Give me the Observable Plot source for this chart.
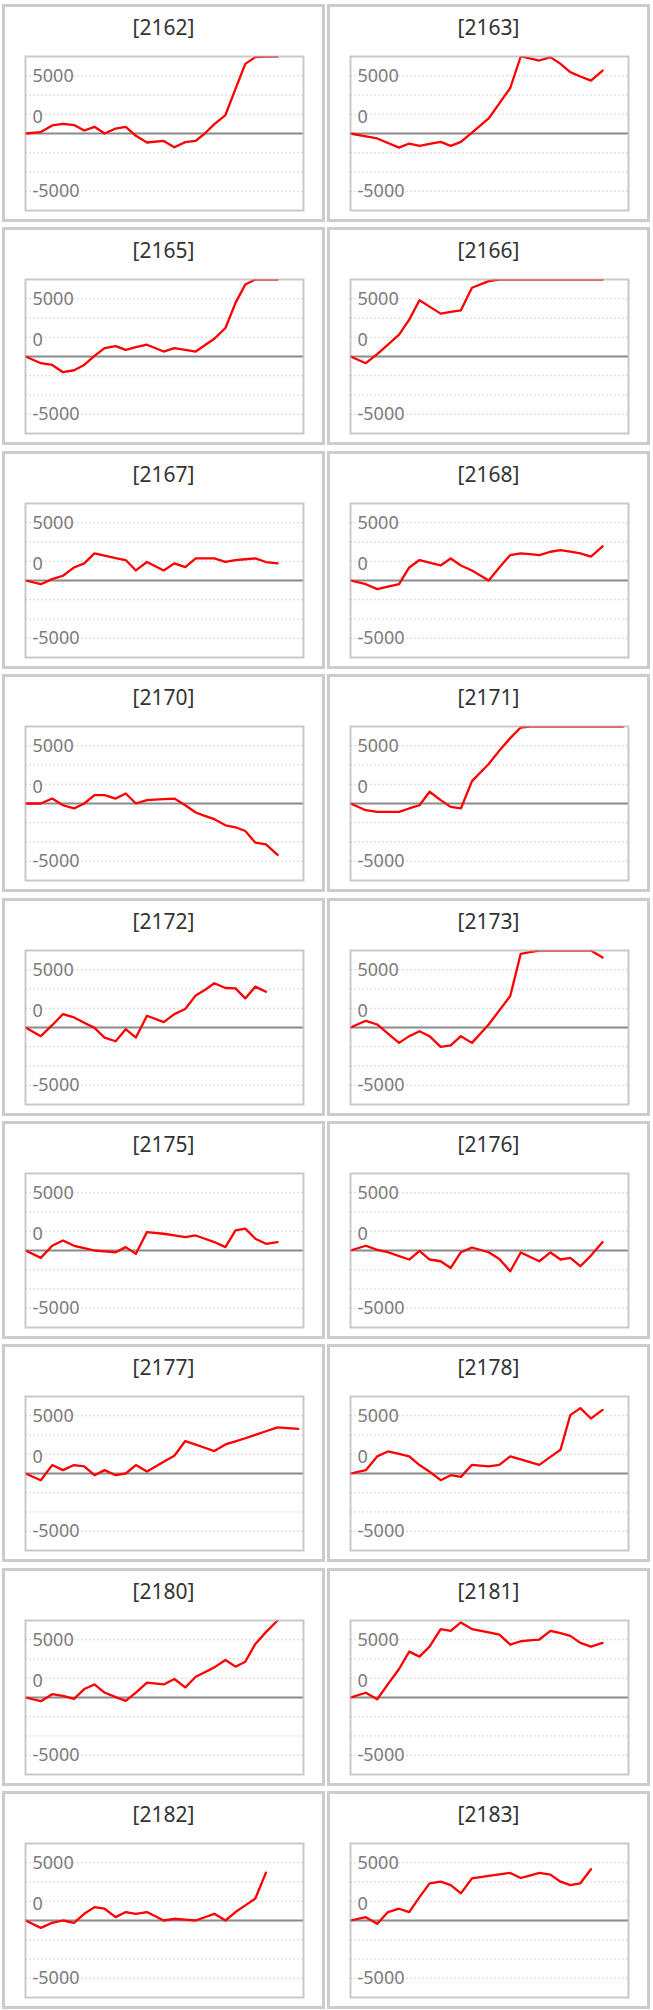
<!DOCTYPE html>
<html><head><meta charset="utf-8">
<script src="https://cdn.jsdelivr.net/npm/d3@7"></script>
<script src="https://cdn.jsdelivr.net/npm/@observablehq/plot@0.6"></script>
<style>
body{margin:0;background:#fff;width:653px;height:2010px;position:relative;overflow:hidden;font-family:"Noto Sans","Open Sans",sans-serif;}
.panel{position:absolute;width:323px;height:218px;box-sizing:border-box;border:3px solid #cccccc;background:#fff;}
.title{position:absolute;left:0;right:0;top:2px;height:36px;line-height:36px;text-align:center;font-size:21px;color:#333;}
.chart{position:absolute;left:0;top:40px;}
</style></head><body>
<script>
const days = [0, 1.52, 2.65, 3.72, 4.82, 5.83, 6.85, 7.85, 8.95, 9.95, 10.96, 12.06, 13.72, 14.78, 15.86, 16.9, 17.8, 18.75, 19.85, 20.85, 21.82, 22.82, 23.87, 25.03, 27.08];
const panelIds = ["2162","2163","2165","2166","2167","2168","2170","2171","2172","2173","2175","2176","2177","2178","2180","2181","2182","2183"];
const s2162 = [0, 120, 700, 840, 730, 260, 580, 0, 430, 580, -200, -780, -640, -1190, -750, -640, 0, 810, 1600, 3860, 6030, 6610, 7200, 7400, null];
const s2163 = [0, -250, -430, -820, -1220, -870, -1070, -900, -730, -1070, -730, 80, 1300, 2610, 3940, 6670, 6500, 6320, 6610, 6030, 5310, 4940, 4580, 5450, null];
const s2165 = [0, -580, -730, -1360, -1190, -730, 60, 730, 900, 580, 810, 1020, 430, 730, 580, 430, 970, 1540, 2470, 4640, 6240, 6670, 7100, 7300, null];
const s2166 = [0, -580, 200, 1030, 1890, 3190, 4870, 4320, 3710, 3860, 4000, 5950, 6530, 6670, 7000, 7200, 7300, 7300, 7400, 7400, 7500, 7500, 7600, 7600, null];
const s2167 = [0, -320, 120, 410, 1130, 1480, 2350, 2150, 1940, 1770, 870, 1600, 870, 1480, 1160, 1910, 1910, 1910, 1620, 1770, 1840, 1910, 1600, 1480, null];
const s2168 = [0, -320, -750, -540, -320, 1130, 1770, 1540, 1300, 1910, 1300, 870, 0, 1130, 2200, 2350, 2280, 2200, 2490, 2640, 2490, 2350, 2060, 2960, null];
const s2170 = [0, 0, 430, -150, -430, 0, 730, 730, 430, 870, 0, 290, 380, 430, -150, -780, -1070, -1360, -1890, -2060, -2380, -3390, -3540, -4440, null];
const s2171 = [0, -580, -730, -730, -730, -430, -150, 1020, 290, -290, -430, 1940, 3420, 4580, 5660, 6580, 7000, 7200, 7300, 7300, 7400, 7400, 7500, 7500, 7600];
const s2172 = [0, -750, 200, 1160, 870, 410, -30, -870, -1190, -150, -870, 1020, 460, 1160, 1600, 2780, 3250, 3830, 3420, 3390, 2520, 3540, 3100, null, null];
const s2173 = [0, 580, 260, -530, -1330, -750, -320, -750, -1680, -1540, -750, -1330, 260, 1480, 2730, 6380, 6520, 6670, 7000, 7100, 7100, 7000, 6800, 6060, null];
const s2175 = [0, -640, 410, 870, 410, 200, 0, -70, -150, 290, -290, 1600, 1450, 1300, 1160, 1300, 1020, 730, 290, 1740, 1890, 1020, 580, 730, null];
const s2176 = [0, 410, 60, -150, -480, -780, -30, -780, -930, -1510, -150, 260, -150, -730, -1800, -170, -540, -930, -170, -780, -640, -1360, -440, 730, null];
const s2177 = [0, -580, 730, 290, 730, 610, -150, 290, -150, 0, 730, 170, 1020, 1540, 2810, 2500, 2230, 1940, 2520, 2790, 3050, 3340, 3660, 4000, 3860];
const s2178 = [0, 290, 1480, 1910, 1690, 1480, 730, 150, -580, -150, -290, 750, 610, 750, 1480, 1220, 990, 750, 1440, 2060, 5050, 5660, 4760, 5510, null];
const s2180 = [0, -320, 290, 150, -120, 730, 1130, 430, 30, -290, 430, 1280, 1130, 1600, 870, 1800, 2190, 2610, 3250, 2670, 3100, 4640, 5660, 6700, null];
const s2181 = [0, 410, -150, 1160, 2470, 3970, 3540, 4410, 5920, 5770, 6500, 5920, 5630, 5450, 4580, 4870, 4940, 5020, 5770, 5570, 5340, 4730, 4410, 4730, null];
const s2182 = [0, -640, -200, 0, -200, 580, 1160, 1020, 290, 730, 580, 730, 0, 150, 80, 0, 280, 580, 0, 730, 1310, 1910, 4150, null, null];
const s2183 = [0, 290, -290, 730, 1020, 730, 2030, 3220, 3360, 3070, 2350, 3650, 3860, 3990, 4120, 3680, 3890, 4120, 3970, 3360, 3070, 3220, 4440, null, null];
const seriesList = [s2162, s2163, s2165, s2166, s2167, s2168, s2170, s2171, s2172, s2173, s2175, s2176, s2177, s2178, s2180, s2181, s2182, s2183];
const yDomain = [-6667, 6667];
const gridValues = [-5000, -3333, -1667, 1667, 3333, 5000];
const tickValues = [5000, -5000];
const tickLabels = ["5000", "-5000"];
const zeroLabel = "0";

panelIds.forEach((id, i) => {
  const col = i % 2, row = Math.floor(i / 2);
  const div = document.createElement("div");
  div.className = "panel";
  div.style.left = (col ? 327 : 2) + "px";
  div.style.top = Math.round(4 + 223.4 * row) + "px";
  const t = document.createElement("div");
  t.className = "title";
  t.textContent = "[" + id + "]";
  div.appendChild(t);
  const data = days.map((d, j) => ({day: d, v: seriesList[i][j]})).filter(d => d.v != null);
  const chart = Plot.plot({
    width: 317, height: 172,
    marginLeft: 20, marginRight: 19, marginTop: 9, marginBottom: 9,
    x: {domain: [0, 27.6], axis: null},
    y: {domain: yDomain, axis: null, clamp: true},
    style: {background: "transparent", fontFamily: "Noto Sans, Open Sans, sans-serif"},
    marks: [
      Plot.ruleY(gridValues, {stroke: "#d4d4d4", strokeDasharray: "2,2", strokeWidth: 1}),
      Plot.text(tickValues, {y: d => d, text: (d, k) => tickLabels[k], frameAnchor: "left", textAnchor: "start", dx: 7, fontSize: 18, fill: "#7c7c7c"}),
      Plot.text([0], {y: d => d, text: () => zeroLabel, frameAnchor: "left", textAnchor: "start", dx: 7, dy: -16, fontSize: 18, fill: "#7c7c7c"}),
      Plot.ruleY([0], {stroke: "#8a8a8a", strokeWidth: 2}),
      Plot.line(data, {x: "day", y: "v", stroke: "#ff0000", strokeWidth: 2.3, clip: true}),
      Plot.frame({stroke: "#b4b4b4", strokeOpacity: 0.72, strokeWidth: 2})
    ]
  });
  chart.classList.add("chart");
  div.appendChild(chart);
  document.body.appendChild(div);
});
</script>
</body></html>
